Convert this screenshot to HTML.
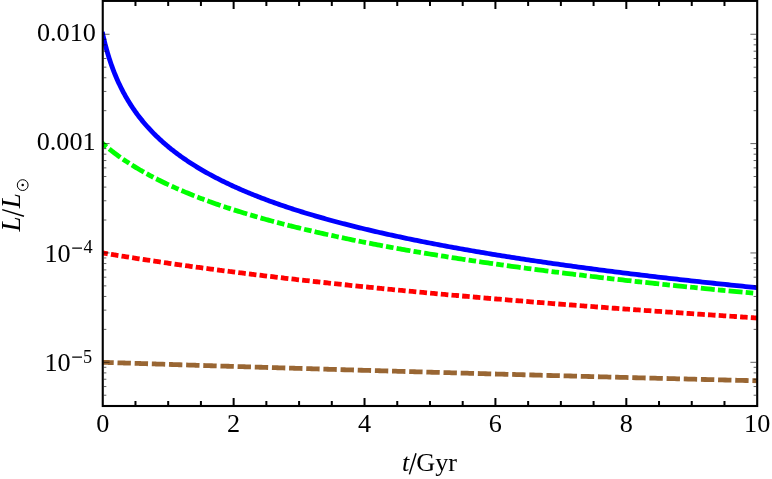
<!DOCTYPE html>
<html><head><meta charset="utf-8"><title>L/Lsun vs t/Gyr</title>
<style>html,body{margin:0;padding:0;background:#fff;overflow:hidden;}svg{display:block;will-change:transform;}text{font-family:"Liberation Serif",serif;fill:#000;}</style></head><body>
<svg width="772" height="479" viewBox="0 0 772 479">
<rect x="0" y="0" width="772" height="479" fill="#fff"/>
<defs><clipPath id="c"><rect x="102.75" y="0.9" width="654.45" height="405.1"/></clipPath></defs>
<g fill="none" stroke-linejoin="round" clip-path="url(#c)">
<path d="M102.75,362.30 L102.76,362.30 L102.80,362.30 L102.85,362.30 L102.91,362.31 L103.00,362.31 L103.09,362.31 L103.20,362.31 L103.32,362.32 L103.46,362.32 L103.61,362.33 L103.77,362.33 L103.94,362.34 L104.12,362.34 L104.32,362.35 L104.52,362.36 L104.74,362.36 L104.97,362.37 L105.21,362.38 L105.47,362.39 L105.73,362.40 L106.00,362.41 L106.29,362.42 L106.58,362.42 L106.89,362.43 L107.20,362.44 L107.53,362.46 L107.86,362.47 L108.21,362.48 L108.56,362.49 L108.93,362.50 L109.31,362.51 L109.69,362.53 L110.09,362.54 L110.49,362.55 L110.91,362.57 L111.33,362.58 L111.76,362.59 L112.21,362.61 L112.66,362.62 L113.12,362.64 L113.59,362.65 L114.07,362.67 L114.56,362.68 L115.06,362.70 L115.57,362.72 L116.09,362.73 L116.62,362.75 L117.15,362.77 L117.70,362.78 L118.25,362.80 L118.81,362.82 L119.38,362.84 L119.96,362.86 L120.55,362.88 L121.15,362.90 L121.76,362.92 L122.37,362.94 L123.00,362.96 L123.63,362.98 L124.27,363.00 L124.92,363.02 L125.58,363.04 L126.25,363.06 L126.92,363.08 L127.60,363.10 L128.30,363.13 L129.00,363.15 L129.71,363.17 L130.43,363.20 L131.15,363.22 L131.89,363.24 L132.63,363.27 L133.38,363.29 L134.14,363.31 L134.91,363.34 L135.68,363.36 L136.47,363.39 L137.26,363.41 L138.06,363.44 L138.87,363.47 L139.69,363.49 L140.51,363.52 L141.34,363.54 L142.18,363.57 L143.03,363.60 L143.89,363.63 L144.76,363.65 L145.63,363.68 L146.51,363.71 L147.40,363.74 L148.30,363.77 L149.20,363.80 L150.11,363.82 L151.03,363.85 L151.96,363.88 L152.90,363.91 L153.84,363.94 L154.79,363.97 L155.75,364.00 L156.72,364.03 L157.70,364.07 L158.68,364.10 L159.67,364.13 L160.67,364.16 L161.68,364.19 L162.69,364.22 L163.71,364.26 L164.74,364.29 L165.78,364.32 L166.82,364.35 L167.88,364.39 L168.94,364.42 L170.00,364.45 L171.08,364.49 L172.16,364.52 L173.25,364.56 L174.35,364.59 L175.45,364.63 L176.57,364.66 L177.69,364.70 L178.81,364.73 L179.95,364.77 L181.09,364.80 L182.24,364.84 L183.40,364.88 L184.57,364.91 L185.74,364.95 L186.92,364.99 L188.11,365.02 L189.30,365.06 L190.50,365.10 L191.71,365.14 L192.93,365.17 L194.15,365.21 L195.38,365.25 L196.62,365.29 L197.87,365.33 L199.12,365.37 L200.38,365.41 L201.65,365.44 L202.93,365.48 L204.21,365.52 L205.50,365.56 L206.79,365.60 L208.10,365.64 L209.41,365.69 L210.73,365.73 L212.05,365.77 L213.39,365.81 L214.73,365.85 L216.08,365.89 L217.43,365.93 L218.79,365.97 L220.16,366.02 L221.54,366.06 L222.92,366.10 L224.31,366.14 L225.71,366.19 L227.11,366.23 L228.52,366.27 L229.94,366.32 L231.37,366.36 L232.80,366.41 L234.24,366.45 L235.69,366.49 L237.14,366.54 L238.60,366.58 L240.07,366.63 L241.54,366.67 L243.02,366.72 L244.51,366.76 L246.01,366.81 L247.51,366.85 L249.02,366.90 L250.54,366.95 L252.06,366.99 L253.59,367.04 L255.13,367.09 L256.67,367.13 L258.22,367.18 L259.78,367.23 L261.35,367.27 L262.92,367.32 L264.50,367.37 L266.08,367.42 L267.68,367.46 L269.28,367.51 L270.88,367.56 L272.50,367.61 L274.12,367.66 L275.74,367.71 L277.38,367.76 L279.02,367.81 L280.66,367.85 L282.32,367.90 L283.98,367.95 L285.65,368.00 L287.32,368.05 L289.00,368.10 L290.69,368.15 L292.39,368.20 L294.09,368.26 L295.80,368.31 L297.51,368.36 L299.23,368.41 L300.96,368.46 L302.70,368.51 L304.44,368.56 L306.19,368.61 L307.94,368.67 L309.71,368.72 L311.47,368.77 L313.25,368.82 L315.03,368.88 L316.82,368.93 L318.62,368.98 L320.42,369.03 L322.23,369.09 L324.04,369.14 L325.87,369.19 L327.69,369.25 L329.53,369.30 L331.37,369.36 L333.22,369.41 L335.08,369.46 L336.94,369.52 L338.81,369.57 L340.68,369.63 L342.56,369.68 L344.45,369.74 L346.35,369.79 L348.25,369.85 L350.16,369.90 L352.07,369.96 L353.99,370.02 L355.92,370.07 L357.85,370.13 L359.79,370.18 L361.74,370.24 L363.69,370.30 L365.66,370.35 L367.62,370.41 L369.60,370.47 L371.58,370.52 L373.56,370.58 L375.55,370.64 L377.55,370.69 L379.56,370.75 L381.57,370.81 L383.59,370.87 L385.62,370.93 L387.65,370.98 L389.69,371.04 L391.73,371.10 L393.78,371.16 L395.84,371.22 L397.90,371.28 L399.97,371.34 L402.05,371.39 L404.13,371.45 L406.22,371.51 L408.32,371.57 L410.42,371.63 L412.53,371.69 L414.65,371.75 L416.77,371.81 L418.90,371.87 L421.03,371.93 L423.17,371.99 L425.32,372.05 L427.47,372.11 L429.63,372.17 L431.80,372.23 L433.97,372.29 L436.15,372.36 L438.34,372.42 L440.53,372.48 L442.73,372.54 L444.93,372.60 L447.14,372.66 L449.36,372.72 L451.58,372.79 L453.81,372.85 L456.05,372.91 L458.29,372.97 L460.54,373.03 L462.79,373.10 L465.06,373.16 L467.32,373.22 L469.60,373.29 L471.88,373.35 L474.16,373.41 L476.46,373.47 L478.76,373.54 L481.06,373.60 L483.37,373.66 L485.69,373.73 L488.01,373.79 L490.34,373.86 L492.68,373.92 L495.02,373.98 L497.37,374.05 L499.73,374.11 L502.09,374.18 L504.46,374.24 L506.83,374.31 L509.21,374.37 L511.60,374.43 L513.99,374.50 L516.39,374.56 L518.79,374.63 L521.20,374.69 L523.62,374.76 L526.04,374.83 L528.47,374.89 L530.91,374.96 L533.35,375.02 L535.80,375.09 L538.25,375.15 L540.71,375.22 L543.18,375.29 L545.65,375.35 L548.13,375.42 L550.62,375.48 L553.11,375.55 L555.61,375.62 L558.11,375.68 L560.62,375.75 L563.13,375.82 L565.66,375.89 L568.18,375.95 L570.72,376.02 L573.26,376.09 L575.81,376.15 L578.36,376.22 L580.92,376.29 L583.48,376.36 L586.05,376.42 L588.63,376.49 L591.21,376.56 L593.80,376.63 L596.40,376.70 L599.00,376.76 L601.60,376.83 L604.22,376.90 L606.84,376.97 L609.46,377.04 L612.09,377.11 L614.73,377.18 L617.38,377.24 L620.02,377.31 L622.68,377.38 L625.34,377.45 L628.01,377.52 L630.68,377.59 L633.36,377.66 L636.05,377.73 L638.74,377.80 L641.44,377.87 L644.14,377.94 L646.85,378.01 L649.57,378.08 L652.29,378.15 L655.02,378.22 L657.75,378.29 L660.49,378.36 L663.24,378.43 L665.99,378.50 L668.75,378.57 L671.51,378.64 L674.28,378.71 L677.06,378.78 L679.84,378.85 L682.63,378.92 L685.42,378.99 L688.22,379.06 L691.03,379.13 L693.84,379.20 L696.66,379.27 L699.48,379.35 L702.31,379.42 L705.15,379.49 L707.99,379.56 L710.84,379.63 L713.69,379.70 L716.55,379.77 L719.41,379.85 L722.28,379.92 L725.16,379.99 L728.04,380.06 L730.93,380.13 L733.83,380.21 L736.73,380.28 L739.64,380.35 L742.55,380.42 L745.47,380.49 L748.39,380.57 L751.32,380.64 L754.26,380.71 L757.20,380.78" stroke="#996633" stroke-width="4.8" stroke-dasharray="8.583 8.583" stroke-linecap="square"/>
<path d="M102.75,252.95 L102.76,252.95 L102.80,252.96 L102.85,252.97 L102.91,252.98 L103.00,252.99 L103.09,253.01 L103.20,253.03 L103.32,253.05 L103.46,253.07 L103.61,253.09 L103.77,253.12 L103.94,253.15 L104.12,253.18 L104.32,253.21 L104.52,253.25 L104.74,253.28 L104.97,253.32 L105.21,253.36 L105.47,253.41 L105.73,253.45 L106.00,253.50 L106.29,253.54 L106.58,253.59 L106.89,253.64 L107.20,253.70 L107.53,253.75 L107.86,253.81 L108.21,253.86 L108.56,253.92 L108.93,253.98 L109.31,254.05 L109.69,254.11 L110.09,254.17 L110.49,254.24 L110.91,254.31 L111.33,254.38 L111.76,254.45 L112.21,254.52 L112.66,254.60 L113.12,254.67 L113.59,254.75 L114.07,254.83 L114.56,254.91 L115.06,254.99 L115.57,255.08 L116.09,255.16 L116.62,255.25 L117.15,255.33 L117.70,255.42 L118.25,255.51 L118.81,255.60 L119.38,255.69 L119.96,255.79 L120.55,255.88 L121.15,255.98 L121.76,256.08 L122.37,256.18 L123.00,256.28 L123.63,256.38 L124.27,256.48 L124.92,256.58 L125.58,256.69 L126.25,256.80 L126.92,256.90 L127.60,257.01 L128.30,257.12 L129.00,257.23 L129.71,257.34 L130.43,257.46 L131.15,257.57 L131.89,257.69 L132.63,257.80 L133.38,257.92 L134.14,258.04 L134.91,258.16 L135.68,258.28 L136.47,258.40 L137.26,258.52 L138.06,258.65 L138.87,258.77 L139.69,258.90 L140.51,259.03 L141.34,259.15 L142.18,259.28 L143.03,259.41 L143.89,259.54 L144.76,259.67 L145.63,259.81 L146.51,259.94 L147.40,260.08 L148.30,260.21 L149.20,260.35 L150.11,260.49 L151.03,260.62 L151.96,260.76 L152.90,260.90 L153.84,261.04 L154.79,261.19 L155.75,261.33 L156.72,261.47 L157.70,261.62 L158.68,261.76 L159.67,261.91 L160.67,262.06 L161.68,262.20 L162.69,262.35 L163.71,262.50 L164.74,262.65 L165.78,262.80 L166.82,262.95 L167.88,263.11 L168.94,263.26 L170.00,263.41 L171.08,263.57 L172.16,263.72 L173.25,263.88 L174.35,264.03 L175.45,264.19 L176.57,264.35 L177.69,264.51 L178.81,264.67 L179.95,264.83 L181.09,264.99 L182.24,265.15 L183.40,265.31 L184.57,265.48 L185.74,265.64 L186.92,265.80 L188.11,265.97 L189.30,266.13 L190.50,266.30 L191.71,266.47 L192.93,266.63 L194.15,266.80 L195.38,266.97 L196.62,267.14 L197.87,267.31 L199.12,267.48 L200.38,267.65 L201.65,267.82 L202.93,267.99 L204.21,268.16 L205.50,268.33 L206.79,268.51 L208.10,268.68 L209.41,268.86 L210.73,269.03 L212.05,269.21 L213.39,269.38 L214.73,269.56 L216.08,269.73 L217.43,269.91 L218.79,270.09 L220.16,270.27 L221.54,270.44 L222.92,270.62 L224.31,270.80 L225.71,270.98 L227.11,271.16 L228.52,271.34 L229.94,271.52 L231.37,271.71 L232.80,271.89 L234.24,272.07 L235.69,272.25 L237.14,272.44 L238.60,272.62 L240.07,272.80 L241.54,272.99 L243.02,273.17 L244.51,273.36 L246.01,273.54 L247.51,273.73 L249.02,273.91 L250.54,274.10 L252.06,274.28 L253.59,274.47 L255.13,274.66 L256.67,274.85 L258.22,275.03 L259.78,275.22 L261.35,275.41 L262.92,275.60 L264.50,275.79 L266.08,275.98 L267.68,276.17 L269.28,276.36 L270.88,276.55 L272.50,276.74 L274.12,276.93 L275.74,277.12 L277.38,277.31 L279.02,277.50 L280.66,277.69 L282.32,277.88 L283.98,278.08 L285.65,278.27 L287.32,278.46 L289.00,278.65 L290.69,278.85 L292.39,279.04 L294.09,279.23 L295.80,279.43 L297.51,279.62 L299.23,279.81 L300.96,280.01 L302.70,280.20 L304.44,280.40 L306.19,280.59 L307.94,280.79 L309.71,280.98 L311.47,281.18 L313.25,281.37 L315.03,281.57 L316.82,281.76 L318.62,281.96 L320.42,282.16 L322.23,282.35 L324.04,282.55 L325.87,282.74 L327.69,282.94 L329.53,283.14 L331.37,283.33 L333.22,283.53 L335.08,283.73 L336.94,283.93 L338.81,284.12 L340.68,284.32 L342.56,284.52 L344.45,284.71 L346.35,284.91 L348.25,285.11 L350.16,285.31 L352.07,285.51 L353.99,285.70 L355.92,285.90 L357.85,286.10 L359.79,286.30 L361.74,286.50 L363.69,286.70 L365.66,286.89 L367.62,287.09 L369.60,287.29 L371.58,287.49 L373.56,287.69 L375.55,287.89 L377.55,288.09 L379.56,288.29 L381.57,288.48 L383.59,288.68 L385.62,288.88 L387.65,289.08 L389.69,289.28 L391.73,289.48 L393.78,289.68 L395.84,289.88 L397.90,290.08 L399.97,290.28 L402.05,290.48 L404.13,290.68 L406.22,290.87 L408.32,291.07 L410.42,291.27 L412.53,291.47 L414.65,291.67 L416.77,291.87 L418.90,292.07 L421.03,292.27 L423.17,292.47 L425.32,292.67 L427.47,292.87 L429.63,293.07 L431.80,293.27 L433.97,293.47 L436.15,293.67 L438.34,293.86 L440.53,294.06 L442.73,294.26 L444.93,294.46 L447.14,294.66 L449.36,294.86 L451.58,295.06 L453.81,295.26 L456.05,295.46 L458.29,295.66 L460.54,295.86 L462.79,296.06 L465.06,296.25 L467.32,296.45 L469.60,296.65 L471.88,296.85 L474.16,297.05 L476.46,297.25 L478.76,297.45 L481.06,297.65 L483.37,297.84 L485.69,298.04 L488.01,298.24 L490.34,298.44 L492.68,298.64 L495.02,298.84 L497.37,299.03 L499.73,299.23 L502.09,299.43 L504.46,299.63 L506.83,299.83 L509.21,300.02 L511.60,300.22 L513.99,300.42 L516.39,300.62 L518.79,300.81 L521.20,301.01 L523.62,301.21 L526.04,301.41 L528.47,301.60 L530.91,301.80 L533.35,302.00 L535.80,302.19 L538.25,302.39 L540.71,302.59 L543.18,302.78 L545.65,302.98 L548.13,303.18 L550.62,303.37 L553.11,303.57 L555.61,303.77 L558.11,303.96 L560.62,304.16 L563.13,304.35 L565.66,304.55 L568.18,304.75 L570.72,304.94 L573.26,305.14 L575.81,305.33 L578.36,305.53 L580.92,305.72 L583.48,305.92 L586.05,306.11 L588.63,306.31 L591.21,306.50 L593.80,306.70 L596.40,306.89 L599.00,307.09 L601.60,307.28 L604.22,307.48 L606.84,307.67 L609.46,307.86 L612.09,308.06 L614.73,308.25 L617.38,308.44 L620.02,308.64 L622.68,308.83 L625.34,309.02 L628.01,309.22 L630.68,309.41 L633.36,309.60 L636.05,309.80 L638.74,309.99 L641.44,310.18 L644.14,310.37 L646.85,310.57 L649.57,310.76 L652.29,310.95 L655.02,311.14 L657.75,311.33 L660.49,311.52 L663.24,311.72 L665.99,311.91 L668.75,312.10 L671.51,312.29 L674.28,312.48 L677.06,312.67 L679.84,312.86 L682.63,313.05 L685.42,313.24 L688.22,313.43 L691.03,313.62 L693.84,313.81 L696.66,314.00 L699.48,314.19 L702.31,314.38 L705.15,314.57 L707.99,314.76 L710.84,314.95 L713.69,315.14 L716.55,315.33 L719.41,315.52 L722.28,315.70 L725.16,315.89 L728.04,316.08 L730.93,316.27 L733.83,316.46 L736.73,316.64 L739.64,316.83 L742.55,317.02 L745.47,317.21 L748.39,317.39 L751.32,317.58 L754.26,317.77 L757.20,317.95" stroke="#ff0000" stroke-width="4.8" stroke-dasharray="2.75 7.97" stroke-linecap="square"/>
<path d="M102.75,143.60 L102.76,143.61 L102.80,143.64 L102.85,143.68 L102.91,143.74 L103.00,143.81 L103.09,143.89 L103.20,143.99 L103.32,144.09 L103.46,144.21 L103.61,144.34 L103.77,144.47 L103.94,144.62 L104.12,144.78 L104.32,144.95 L104.52,145.12 L104.74,145.31 L104.97,145.50 L105.21,145.70 L105.47,145.91 L105.73,146.13 L106.00,146.36 L106.29,146.60 L106.58,146.84 L106.89,147.09 L107.20,147.35 L107.53,147.62 L107.86,147.89 L108.21,148.17 L108.56,148.46 L108.93,148.75 L109.31,149.05 L109.69,149.36 L110.09,149.67 L110.49,149.99 L110.91,150.32 L111.33,150.65 L111.76,150.99 L112.21,151.33 L112.66,151.68 L113.12,152.03 L113.59,152.39 L114.07,152.76 L114.56,153.12 L115.06,153.50 L115.57,153.88 L116.09,154.26 L116.62,154.65 L117.15,155.04 L117.70,155.44 L118.25,155.84 L118.81,156.24 L119.38,156.65 L119.96,157.06 L120.55,157.48 L121.15,157.90 L121.76,158.32 L122.37,158.74 L123.00,159.17 L123.63,159.61 L124.27,160.04 L124.92,160.48 L125.58,160.92 L126.25,161.37 L126.92,161.81 L127.60,162.26 L128.30,162.71 L129.00,163.17 L129.71,163.62 L130.43,164.08 L131.15,164.54 L131.89,165.01 L132.63,165.47 L133.38,165.94 L134.14,166.41 L134.91,166.88 L135.68,167.35 L136.47,167.82 L137.26,168.30 L138.06,168.78 L138.87,169.26 L139.69,169.73 L140.51,170.22 L141.34,170.70 L142.18,171.18 L143.03,171.67 L143.89,172.15 L144.76,172.64 L145.63,173.12 L146.51,173.61 L147.40,174.10 L148.30,174.59 L149.20,175.08 L150.11,175.57 L151.03,176.06 L151.96,176.56 L152.90,177.05 L153.84,177.54 L154.79,178.03 L155.75,178.53 L156.72,179.02 L157.70,179.52 L158.68,180.01 L159.67,180.51 L160.67,181.00 L161.68,181.50 L162.69,181.99 L163.71,182.49 L164.74,182.98 L165.78,183.48 L166.82,183.97 L167.88,184.47 L168.94,184.96 L170.00,185.46 L171.08,185.95 L172.16,186.45 L173.25,186.94 L174.35,187.44 L175.45,187.93 L176.57,188.42 L177.69,188.92 L178.81,189.41 L179.95,189.90 L181.09,190.39 L182.24,190.88 L183.40,191.37 L184.57,191.86 L185.74,192.35 L186.92,192.84 L188.11,193.33 L189.30,193.82 L190.50,194.31 L191.71,194.80 L192.93,195.28 L194.15,195.77 L195.38,196.25 L196.62,196.74 L197.87,197.22 L199.12,197.71 L200.38,198.19 L201.65,198.67 L202.93,199.15 L204.21,199.63 L205.50,200.11 L206.79,200.59 L208.10,201.07 L209.41,201.55 L210.73,202.02 L212.05,202.50 L213.39,202.97 L214.73,203.45 L216.08,203.92 L217.43,204.39 L218.79,204.86 L220.16,205.33 L221.54,205.80 L222.92,206.27 L224.31,206.74 L225.71,207.21 L227.11,207.67 L228.52,208.14 L229.94,208.60 L231.37,209.06 L232.80,209.53 L234.24,209.99 L235.69,210.45 L237.14,210.91 L238.60,211.37 L240.07,211.82 L241.54,212.28 L243.02,212.74 L244.51,213.19 L246.01,213.64 L247.51,214.10 L249.02,214.55 L250.54,215.00 L252.06,215.45 L253.59,215.90 L255.13,216.35 L256.67,216.79 L258.22,217.24 L259.78,217.68 L261.35,218.13 L262.92,218.57 L264.50,219.01 L266.08,219.45 L267.68,219.89 L269.28,220.33 L270.88,220.77 L272.50,221.20 L274.12,221.64 L275.74,222.07 L277.38,222.51 L279.02,222.94 L280.66,223.37 L282.32,223.80 L283.98,224.23 L285.65,224.66 L287.32,225.09 L289.00,225.51 L290.69,225.94 L292.39,226.36 L294.09,226.79 L295.80,227.21 L297.51,227.63 L299.23,228.05 L300.96,228.47 L302.70,228.89 L304.44,229.31 L306.19,229.72 L307.94,230.14 L309.71,230.55 L311.47,230.97 L313.25,231.38 L315.03,231.79 L316.82,232.20 L318.62,232.61 L320.42,233.02 L322.23,233.43 L324.04,233.83 L325.87,234.24 L327.69,234.64 L329.53,235.04 L331.37,235.45 L333.22,235.85 L335.08,236.25 L336.94,236.65 L338.81,237.05 L340.68,237.44 L342.56,237.84 L344.45,238.24 L346.35,238.63 L348.25,239.02 L350.16,239.42 L352.07,239.81 L353.99,240.20 L355.92,240.59 L357.85,240.98 L359.79,241.36 L361.74,241.75 L363.69,242.14 L365.66,242.52 L367.62,242.91 L369.60,243.29 L371.58,243.67 L373.56,244.05 L375.55,244.43 L377.55,244.81 L379.56,245.19 L381.57,245.57 L383.59,245.94 L385.62,246.32 L387.65,246.69 L389.69,247.07 L391.73,247.44 L393.78,247.81 L395.84,248.18 L397.90,248.55 L399.97,248.92 L402.05,249.29 L404.13,249.66 L406.22,250.03 L408.32,250.39 L410.42,250.76 L412.53,251.12 L414.65,251.48 L416.77,251.84 L418.90,252.21 L421.03,252.57 L423.17,252.92 L425.32,253.28 L427.47,253.64 L429.63,254.00 L431.80,254.35 L433.97,254.71 L436.15,255.06 L438.34,255.42 L440.53,255.77 L442.73,256.12 L444.93,256.47 L447.14,256.82 L449.36,257.17 L451.58,257.52 L453.81,257.87 L456.05,258.21 L458.29,258.56 L460.54,258.90 L462.79,259.25 L465.06,259.59 L467.32,259.93 L469.60,260.28 L471.88,260.62 L474.16,260.96 L476.46,261.30 L478.76,261.63 L481.06,261.97 L483.37,262.31 L485.69,262.65 L488.01,262.98 L490.34,263.31 L492.68,263.65 L495.02,263.98 L497.37,264.31 L499.73,264.65 L502.09,264.98 L504.46,265.31 L506.83,265.63 L509.21,265.96 L511.60,266.29 L513.99,266.62 L516.39,266.94 L518.79,267.27 L521.20,267.59 L523.62,267.92 L526.04,268.24 L528.47,268.56 L530.91,268.88 L533.35,269.20 L535.80,269.52 L538.25,269.84 L540.71,270.16 L543.18,270.48 L545.65,270.80 L548.13,271.11 L550.62,271.43 L553.11,271.74 L555.61,272.06 L558.11,272.37 L560.62,272.69 L563.13,273.00 L565.66,273.31 L568.18,273.62 L570.72,273.93 L573.26,274.24 L575.81,274.55 L578.36,274.86 L580.92,275.16 L583.48,275.47 L586.05,275.78 L588.63,276.08 L591.21,276.39 L593.80,276.69 L596.40,276.99 L599.00,277.30 L601.60,277.60 L604.22,277.90 L606.84,278.20 L609.46,278.50 L612.09,278.80 L614.73,279.10 L617.38,279.39 L620.02,279.69 L622.68,279.99 L625.34,280.28 L628.01,280.58 L630.68,280.87 L633.36,281.17 L636.05,281.46 L638.74,281.75 L641.44,282.05 L644.14,282.34 L646.85,282.63 L649.57,282.92 L652.29,283.21 L655.02,283.50 L657.75,283.79 L660.49,284.07 L663.24,284.36 L665.99,284.65 L668.75,284.93 L671.51,285.22 L674.28,285.50 L677.06,285.79 L679.84,286.07 L682.63,286.35 L685.42,286.64 L688.22,286.92 L691.03,287.20 L693.84,287.48 L696.66,287.76 L699.48,288.04 L702.31,288.32 L705.15,288.60 L707.99,288.87 L710.84,289.15 L713.69,289.43 L716.55,289.70 L719.41,289.98 L722.28,290.25 L725.16,290.53 L728.04,290.80 L730.93,291.07 L733.83,291.35 L736.73,291.62 L739.64,291.89 L742.55,292.16 L745.47,292.43 L748.39,292.70 L751.32,292.97 L754.26,293.24 L757.20,293.51" stroke="#00ff00" stroke-width="4.8" stroke-dasharray="2.75 7.97 9.2 7.98" stroke-linecap="square"/>
<path d="M102.75,34.25 L102.76,34.31 L102.80,34.46 L102.85,34.69 L102.91,34.98 L103.00,35.35 L103.09,35.77 L103.20,36.24 L103.32,36.77 L103.46,37.36 L103.61,37.99 L103.77,38.66 L103.94,39.39 L104.12,40.15 L104.32,40.95 L104.52,41.78 L104.74,42.66 L104.97,43.56 L105.21,44.50 L105.47,45.46 L105.73,46.45 L106.00,47.46 L106.29,48.50 L106.58,49.56 L106.89,50.64 L107.20,51.74 L107.53,52.86 L107.86,53.99 L108.21,55.13 L108.56,56.29 L108.93,57.46 L109.31,58.64 L109.69,59.83 L110.09,61.03 L110.49,62.24 L110.91,63.45 L111.33,64.67 L111.76,65.89 L112.21,67.12 L112.66,68.35 L113.12,69.58 L113.59,70.81 L114.07,72.05 L114.56,73.28 L115.06,74.52 L115.57,75.76 L116.09,76.99 L116.62,78.22 L117.15,79.45 L117.70,80.68 L118.25,81.91 L118.81,83.13 L119.38,84.35 L119.96,85.57 L120.55,86.78 L121.15,87.99 L121.76,89.19 L122.37,90.39 L123.00,91.59 L123.63,92.78 L124.27,93.96 L124.92,95.14 L125.58,96.32 L126.25,97.48 L126.92,98.65 L127.60,99.80 L128.30,100.96 L129.00,102.10 L129.71,103.24 L130.43,104.37 L131.15,105.50 L131.89,106.62 L132.63,107.74 L133.38,108.85 L134.14,109.95 L134.91,111.04 L135.68,112.13 L136.47,113.22 L137.26,114.30 L138.06,115.37 L138.87,116.43 L139.69,117.49 L140.51,118.54 L141.34,119.59 L142.18,120.63 L143.03,121.66 L143.89,122.68 L144.76,123.71 L145.63,124.72 L146.51,125.73 L147.40,126.73 L148.30,127.73 L149.20,128.71 L150.11,129.70 L151.03,130.68 L151.96,131.65 L152.90,132.61 L153.84,133.57 L154.79,134.53 L155.75,135.48 L156.72,136.42 L157.70,137.35 L158.68,138.28 L159.67,139.21 L160.67,140.13 L161.68,141.04 L162.69,141.95 L163.71,142.85 L164.74,143.75 L165.78,144.64 L166.82,145.53 L167.88,146.41 L168.94,147.29 L170.00,148.16 L171.08,149.02 L172.16,149.88 L173.25,150.74 L174.35,151.59 L175.45,152.43 L176.57,153.27 L177.69,154.11 L178.81,154.94 L179.95,155.77 L181.09,156.59 L182.24,157.40 L183.40,158.21 L184.57,159.02 L185.74,159.82 L186.92,160.62 L188.11,161.41 L189.30,162.20 L190.50,162.99 L191.71,163.77 L192.93,164.54 L194.15,165.31 L195.38,166.08 L196.62,166.84 L197.87,167.60 L199.12,168.35 L200.38,169.10 L201.65,169.85 L202.93,170.59 L204.21,171.33 L205.50,172.06 L206.79,172.79 L208.10,173.52 L209.41,174.24 L210.73,174.96 L212.05,175.67 L213.39,176.38 L214.73,177.09 L216.08,177.79 L217.43,178.49 L218.79,179.18 L220.16,179.88 L221.54,180.57 L222.92,181.25 L224.31,181.93 L225.71,182.61 L227.11,183.28 L228.52,183.95 L229.94,184.62 L231.37,185.29 L232.80,185.95 L234.24,186.60 L235.69,187.26 L237.14,187.91 L238.60,188.56 L240.07,189.20 L241.54,189.84 L243.02,190.48 L244.51,191.12 L246.01,191.75 L247.51,192.38 L249.02,193.01 L250.54,193.63 L252.06,194.25 L253.59,194.87 L255.13,195.48 L256.67,196.09 L258.22,196.70 L259.78,197.31 L261.35,197.91 L262.92,198.51 L264.50,199.11 L266.08,199.70 L267.68,200.29 L269.28,200.88 L270.88,201.47 L272.50,202.05 L274.12,202.63 L275.74,203.21 L277.38,203.79 L279.02,204.36 L280.66,204.93 L282.32,205.50 L283.98,206.07 L285.65,206.63 L287.32,207.19 L289.00,207.75 L290.69,208.30 L292.39,208.86 L294.09,209.41 L295.80,209.96 L297.51,210.50 L299.23,211.05 L300.96,211.59 L302.70,212.13 L304.44,212.67 L306.19,213.20 L307.94,213.73 L309.71,214.26 L311.47,214.79 L313.25,215.32 L315.03,215.84 L316.82,216.36 L318.62,216.88 L320.42,217.40 L322.23,217.92 L324.04,218.43 L325.87,218.94 L327.69,219.45 L329.53,219.96 L331.37,220.46 L333.22,220.97 L335.08,221.47 L336.94,221.97 L338.81,222.46 L340.68,222.96 L342.56,223.45 L344.45,223.94 L346.35,224.43 L348.25,224.92 L350.16,225.40 L352.07,225.89 L353.99,226.37 L355.92,226.85 L357.85,227.33 L359.79,227.80 L361.74,228.28 L363.69,228.75 L365.66,229.22 L367.62,229.69 L369.60,230.16 L371.58,230.63 L373.56,231.09 L375.55,231.55 L377.55,232.01 L379.56,232.47 L381.57,232.93 L383.59,233.38 L385.62,233.84 L387.65,234.29 L389.69,234.74 L391.73,235.19 L393.78,235.64 L395.84,236.08 L397.90,236.53 L399.97,236.97 L402.05,237.41 L404.13,237.85 L406.22,238.29 L408.32,238.73 L410.42,239.16 L412.53,239.59 L414.65,240.03 L416.77,240.46 L418.90,240.88 L421.03,241.31 L423.17,241.74 L425.32,242.16 L427.47,242.59 L429.63,243.01 L431.80,243.43 L433.97,243.85 L436.15,244.26 L438.34,244.68 L440.53,245.09 L442.73,245.51 L444.93,245.92 L447.14,246.33 L449.36,246.74 L451.58,247.15 L453.81,247.55 L456.05,247.96 L458.29,248.36 L460.54,248.76 L462.79,249.17 L465.06,249.57 L467.32,249.96 L469.60,250.36 L471.88,250.76 L474.16,251.15 L476.46,251.55 L478.76,251.94 L481.06,252.33 L483.37,252.72 L485.69,253.11 L488.01,253.50 L490.34,253.88 L492.68,254.27 L495.02,254.65 L497.37,255.03 L499.73,255.41 L502.09,255.79 L504.46,256.17 L506.83,256.55 L509.21,256.93 L511.60,257.30 L513.99,257.68 L516.39,258.05 L518.79,258.42 L521.20,258.79 L523.62,259.16 L526.04,259.53 L528.47,259.90 L530.91,260.27 L533.35,260.63 L535.80,261.00 L538.25,261.36 L540.71,261.72 L543.18,262.08 L545.65,262.44 L548.13,262.80 L550.62,263.16 L553.11,263.52 L555.61,263.87 L558.11,264.23 L560.62,264.58 L563.13,264.94 L565.66,265.29 L568.18,265.64 L570.72,265.99 L573.26,266.34 L575.81,266.69 L578.36,267.03 L580.92,267.38 L583.48,267.72 L586.05,268.07 L588.63,268.41 L591.21,268.75 L593.80,269.09 L596.40,269.43 L599.00,269.77 L601.60,270.11 L604.22,270.45 L606.84,270.79 L609.46,271.12 L612.09,271.46 L614.73,271.79 L617.38,272.12 L620.02,272.45 L622.68,272.79 L625.34,273.12 L628.01,273.45 L630.68,273.77 L633.36,274.10 L636.05,274.43 L638.74,274.75 L641.44,275.08 L644.14,275.40 L646.85,275.73 L649.57,276.05 L652.29,276.37 L655.02,276.69 L657.75,277.01 L660.49,277.33 L663.24,277.65 L665.99,277.96 L668.75,278.28 L671.51,278.60 L674.28,278.91 L677.06,279.23 L679.84,279.54 L682.63,279.85 L685.42,280.16 L688.22,280.47 L691.03,280.78 L693.84,281.09 L696.66,281.40 L699.48,281.71 L702.31,282.02 L705.15,282.32 L707.99,282.63 L710.84,282.93 L713.69,283.24 L716.55,283.54 L719.41,283.84 L722.28,284.14 L725.16,284.44 L728.04,284.74 L730.93,285.04 L733.83,285.34 L736.73,285.64 L739.64,285.94 L742.55,286.23 L745.47,286.53 L748.39,286.82 L751.32,287.12 L754.26,287.41 L757.20,287.71" stroke="#0000ff" stroke-width="4.8" stroke-linecap="square"/>
</g>
<g stroke="#000" stroke-width="0.62" fill="none">
<path d="M103.75,395.22h2.6 M756.20,395.22h-2.6"/>
<path d="M103.75,386.56h2.6 M756.20,386.56h-2.6"/>
<path d="M103.75,379.24h2.6 M756.20,379.24h-2.6"/>
<path d="M103.75,372.90h2.6 M756.20,372.90h-2.6"/>
<path d="M103.75,367.30h2.6 M756.20,367.30h-2.6"/>
<path d="M103.75,362.30h5.8 M756.20,362.30h-5.8"/>
<path d="M103.75,329.38h2.6 M756.20,329.38h-2.6"/>
<path d="M103.75,310.13h2.6 M756.20,310.13h-2.6"/>
<path d="M103.75,296.46h2.6 M756.20,296.46h-2.6"/>
<path d="M103.75,285.87h2.6 M756.20,285.87h-2.6"/>
<path d="M103.75,277.21h2.6 M756.20,277.21h-2.6"/>
<path d="M103.75,269.89h2.6 M756.20,269.89h-2.6"/>
<path d="M103.75,263.55h2.6 M756.20,263.55h-2.6"/>
<path d="M103.75,257.95h2.6 M756.20,257.95h-2.6"/>
<path d="M103.75,252.95h5.8 M756.20,252.95h-5.8"/>
<path d="M103.75,220.03h2.6 M756.20,220.03h-2.6"/>
<path d="M103.75,200.78h2.6 M756.20,200.78h-2.6"/>
<path d="M103.75,187.11h2.6 M756.20,187.11h-2.6"/>
<path d="M103.75,176.52h2.6 M756.20,176.52h-2.6"/>
<path d="M103.75,167.86h2.6 M756.20,167.86h-2.6"/>
<path d="M103.75,160.54h2.6 M756.20,160.54h-2.6"/>
<path d="M103.75,154.20h2.6 M756.20,154.20h-2.6"/>
<path d="M103.75,148.60h2.6 M756.20,148.60h-2.6"/>
<path d="M103.75,143.60h5.8 M756.20,143.60h-5.8"/>
<path d="M103.75,110.68h2.6 M756.20,110.68h-2.6"/>
<path d="M103.75,91.43h2.6 M756.20,91.43h-2.6"/>
<path d="M103.75,77.76h2.6 M756.20,77.76h-2.6"/>
<path d="M103.75,67.17h2.6 M756.20,67.17h-2.6"/>
<path d="M103.75,58.51h2.6 M756.20,58.51h-2.6"/>
<path d="M103.75,51.19h2.6 M756.20,51.19h-2.6"/>
<path d="M103.75,44.85h2.6 M756.20,44.85h-2.6"/>
<path d="M103.75,39.25h2.6 M756.20,39.25h-2.6"/>
<path d="M103.75,34.25h5.8 M756.20,34.25h-5.8"/>
</g>
<g stroke="#000" fill="none">
<rect x="102.75" y="0.9" width="654.45" height="405.10" stroke-width="2.1"/>
<path d="M135.47,406.0v-5 M135.47,0.9v5" stroke-width="2"/>
<path d="M168.19,406.0v-5 M168.19,0.9v5" stroke-width="2"/>
<path d="M200.92,406.0v-5 M200.92,0.9v5" stroke-width="2"/>
<path d="M233.64,406.0v-8 M233.64,0.9v8" stroke-width="2"/>
<path d="M266.36,406.0v-5 M266.36,0.9v5" stroke-width="2"/>
<path d="M299.09,406.0v-5 M299.09,0.9v5" stroke-width="2"/>
<path d="M331.81,406.0v-5 M331.81,0.9v5" stroke-width="2"/>
<path d="M364.53,406.0v-8 M364.53,0.9v8" stroke-width="2"/>
<path d="M397.25,406.0v-5 M397.25,0.9v5" stroke-width="2"/>
<path d="M429.98,406.0v-5 M429.98,0.9v5" stroke-width="2"/>
<path d="M462.70,406.0v-5 M462.70,0.9v5" stroke-width="2"/>
<path d="M495.42,406.0v-8 M495.42,0.9v8" stroke-width="2"/>
<path d="M528.14,406.0v-5 M528.14,0.9v5" stroke-width="2"/>
<path d="M560.87,406.0v-5 M560.87,0.9v5" stroke-width="2"/>
<path d="M593.59,406.0v-5 M593.59,0.9v5" stroke-width="2"/>
<path d="M626.31,406.0v-8 M626.31,0.9v8" stroke-width="2"/>
<path d="M659.03,406.0v-5 M659.03,0.9v5" stroke-width="2"/>
<path d="M691.76,406.0v-5 M691.76,0.9v5" stroke-width="2"/>
<path d="M724.48,406.0v-5 M724.48,0.9v5" stroke-width="2"/>
</g>
<text x="102.75" y="432.1" font-size="26.2" text-anchor="middle">0</text>
<text x="233.64" y="432.1" font-size="26.2" text-anchor="middle">2</text>
<text x="364.53" y="432.1" font-size="26.2" text-anchor="middle">4</text>
<text x="495.42" y="432.1" font-size="26.2" text-anchor="middle">6</text>
<text x="626.31" y="432.1" font-size="26.2" text-anchor="middle">8</text>
<text x="757.20" y="432.1" font-size="26.2" text-anchor="middle">10</text>
<text x="95.9" y="41.0" font-size="26.2" text-anchor="end">0.010</text>
<text x="95.6" y="150.2" font-size="26.2" text-anchor="end">0.001</text>
<text x="70.7" y="262.0" font-size="26.2" text-anchor="end">10</text>
<text x="92.65" y="253.1" font-size="18.3" text-anchor="end">4</text>
<text x="70.7" y="370.9" font-size="26.2" text-anchor="end">10</text>
<text x="92.2" y="362.8" font-size="18.3" text-anchor="end">5</text>
<path d="M72.2,248.2H82.0 M72.2,357.1H82.0" stroke="#000" stroke-width="1.3" fill="none"/>
<text x="402.0" y="470.9" font-size="26.2" font-style="italic">t</text>
<text x="416.25" y="470.9" font-size="26.2">Gyr</text>
<path d="M409.4,474.4L416.0,453.2" stroke="#000" stroke-width="1.5" fill="none"/>
<g transform="translate(19.9,231.6) rotate(-90)">
<text x="0" y="0" font-size="27" font-style="italic">L</text>
<text x="23.3" y="0" font-size="27" font-style="italic">L</text>
<path d="M15.4,4.1L22.0,-17.7" stroke="#000" stroke-width="1.5" fill="none"/>
<circle cx="46.5" cy="2.8" r="5.4" fill="none" stroke="#000" stroke-width="1"/>
<circle cx="46.5" cy="2.8" r="1.25" fill="#000"/>
</g>
</svg></body></html>
